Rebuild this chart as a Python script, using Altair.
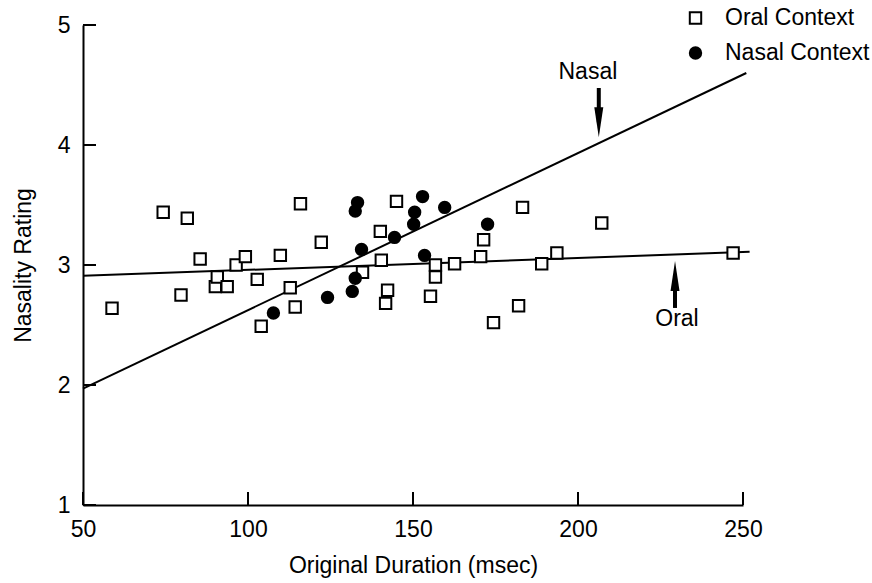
import altair as alt
import pandas as pd

# ---- data ----
oral_x = [58.8, 74.3, 79.7, 81.6, 85.5, 90.1, 90.7, 93.7, 96.4, 99.2, 102.8, 104.0,
          109.8, 112.8, 114.3, 115.9, 122.2, 134.7, 140.1, 140.4, 141.7, 142.3, 145.0,
          155.3, 156.8, 156.8, 162.6, 170.5, 171.4, 174.4, 182.0, 183.2, 189.0, 193.6,
          207.2, 247.0]
oral_y = [2.64, 3.44, 2.75, 3.39, 3.05, 2.82, 2.90, 2.82, 3.00, 3.07, 2.88, 2.49,
          3.08, 2.81, 2.65, 3.51, 3.19, 2.94, 3.28, 3.04, 2.68, 2.79, 3.53,
          2.74, 3.00, 2.90, 3.01, 3.07, 3.21, 2.52, 2.66, 3.48, 3.01, 3.10,
          3.35, 3.10]
nasal_x = [107.7, 124.1, 131.6, 132.5, 133.2, 132.5, 134.4, 144.4, 150.2, 150.5,
           152.9, 153.5, 159.6, 172.6]
nasal_y = [2.60, 2.73, 2.78, 2.89, 3.52, 3.45, 3.13, 3.23, 3.34, 3.44,
           3.57, 3.08, 3.48, 3.34]

fit_names = ["Nasal", "Nasal", "Oral", "Oral"]
fit_x = [50, 251, 50, 252]
fit_y = [1.97, 4.60, 2.91, 3.11]

x_ticks = [50, 100, 150, 200, 250]
y_ticks = [1, 2, 3, 4, 5]

arrow_names = ["Nasal", "Oral"]
arrow_x = [206.3, 229.4]
arrow_tail = [4.475, 2.642]
arrow_head = [4.19, 2.908]
arrow_paths = ["M-0.3,-1L0.3,-1L0,1Z", "M-0.3,1L0.3,1L0,-1Z"]
label_x = [203.0, 230.0]
label_y = [4.61, 2.55]

# ---- tables ----
W, H = 660, 480
FONT = "Liberation Sans"
FS = 23

pts = pd.DataFrame({
    "x": oral_x + nasal_x,
    "y": oral_y + nasal_y,
    "context": ["Oral Context"] * len(oral_x) + ["Nasal Context"] * len(nasal_x),
})
fits = pd.DataFrame({"g": fit_names, "x": fit_x, "y": fit_y})
xt = pd.DataFrame({"v": x_ticks})
yt = pd.DataFrame({"v": y_ticks})
arrows = pd.DataFrame({"name": arrow_names, "x": arrow_x, "tail": arrow_tail,
                       "head": arrow_head, "lx": label_x, "ly": label_y})

xs = alt.Scale(domain=[50, 250], nice=False, zero=False)
ys = alt.Scale(domain=[1, 5], nice=False, zero=False)

x_axis = alt.Axis(values=x_ticks, ticks=False, tickSize=0, grid=False, labelFlush=False,
                  domainColor="black", domainWidth=2, labelColor="black",
                  labelFontSize=FS, labelFont=FONT, labelPadding=13,
                  title="Original Duration (msec)", titleFont=FONT, titleFontSize=FS,
                  titleFontWeight="normal", titleColor="black", titlePadding=13)
y_axis = alt.Axis(values=y_ticks, ticks=False, tickSize=0, grid=False, labelFlush=False,
                  domainColor="black", domainWidth=2, labelColor="black",
                  labelFontSize=FS, labelFont=FONT, labelPadding=13,
                  title="Nasality Rating", titleFont=FONT, titleFontSize=FS,
                  titleFontWeight="normal", titleColor="black", titlePadding=22)


def X(f):
    return alt.X(f, type="quantitative", scale=xs, axis=x_axis)


def Y(f):
    return alt.Y(f, type="quantitative", scale=ys, axis=y_axis)


xtick_layer = alt.Chart(xt).mark_rule(color="black", strokeWidth=2).encode(
    x=X("v"), y=alt.value(H), y2=alt.value(H - 13))
ytick_layer = alt.Chart(yt).mark_rule(color="black", strokeWidth=2).encode(
    y=Y("v"), x=alt.value(0), x2=alt.value(13))

fit_layer = alt.Chart(fits).mark_line(color="black", strokeWidth=2).encode(
    x=X("x"), y=Y("y"), detail="g:N")

shaft = alt.Chart(arrows).mark_rule(color="black", strokeWidth=4).encode(
    x=X("x"), y=Y("tail"), y2="head")
heads = alt.layer(*[
    alt.Chart(arrows[arrows["name"] == n]).mark_point(
        shape=p, size=900, filled=True, color="black", opacity=1).encode(
        x=X("x"), y=Y("head"))
    for n, p in zip(arrow_names, arrow_paths)
])
labels = alt.Chart(arrows).mark_text(font=FONT, fontSize=FS, color="black",
                                     align="center", baseline="middle").encode(
    x=X("lx"), y=Y("ly"), text="name:N")

dom = ["Oral Context", "Nasal Context"]
leg = alt.Legend(title=None, orient="none", legendX=601, legendY=-18.5,
                 labelFont=FONT, labelFontSize=FS, labelColor="black",
                 labelOffset=18, rowPadding=11, symbolSize=130,
                 symbolStrokeColor="black", symbolStrokeWidth=2)
point_layer = alt.Chart(pts).mark_point(size=130, strokeWidth=2,
                                        opacity=1, fillOpacity=1).encode(
    x=X("x"), y=Y("y"),
    shape=alt.Shape("context:N", scale=alt.Scale(domain=dom, range=["square", "circle"]),
                    legend=leg),
    fill=alt.Fill("context:N", scale=alt.Scale(domain=dom, range=["white", "black"]),
                  legend=leg),
    stroke=alt.Stroke("context:N", scale=alt.Scale(domain=dom, range=["black", "black"]),
                      legend=leg),
)

chart = alt.layer(xtick_layer, ytick_layer, fit_layer, shaft, heads, labels, point_layer).properties(
    width=W, height=H,
    padding={"left": 83, "top": 25, "right": 129, "bottom": 78},
    autosize=alt.AutoSizeParams(type="none"),
    background="white",
).configure_view(stroke=None)

chart.save("out.html", embed_options={"renderer": "svg", "actions": False})
